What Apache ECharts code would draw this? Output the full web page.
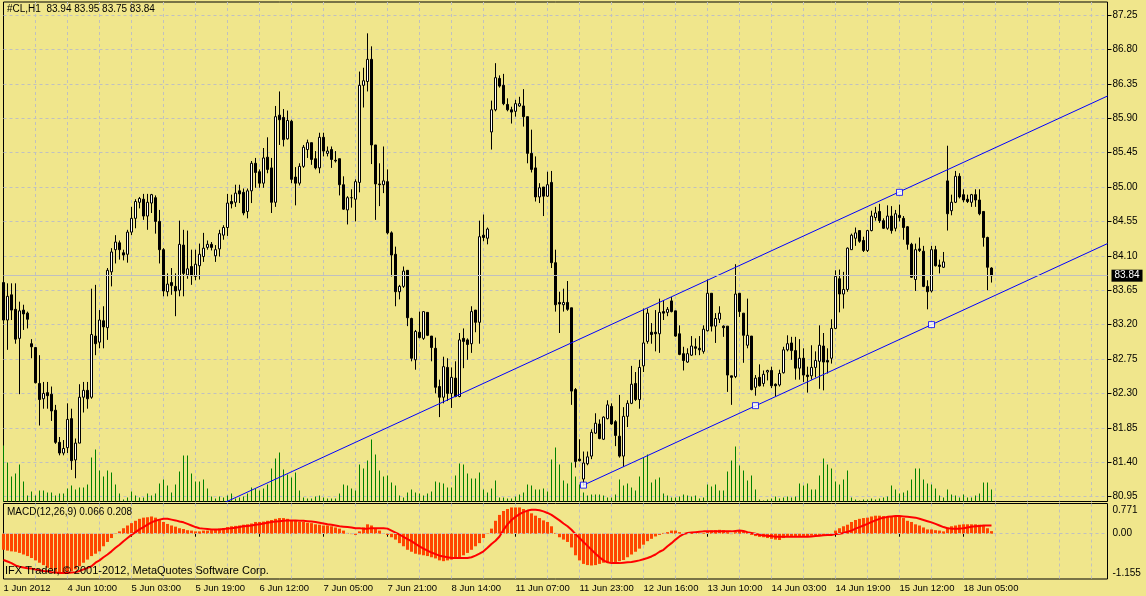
<!DOCTYPE html>
<html><head><meta charset="utf-8">
<script src="https://cdn.jsdelivr.net/npm/echarts@6/dist/echarts.min.js"></script>
<style>html,body{margin:0;padding:0;background:#F0E68C;overflow:hidden}#c{width:1146px;height:596px}</style>
</head><body><div id="c"></div><script>
// [open, close, low, high]
const candles = [
[83.75,83.26,83.24,84.16],[83.26,83.57,82.87,83.74],[83.59,83.39,83.26,83.74],[83.40,83.01,82.95,83.74],[83.02,83.38,82.29,83.50],
[83.39,83.34,83.13,83.46],[83.35,83.27,83.15,83.37],[82.95,82.91,82.76,83.01],[82.90,82.44,82.43,82.90],[82.43,82.22,81.88,82.80],
[82.23,82.30,82.10,82.45],[82.31,82.27,82.10,82.45],[82.29,82.07,81.94,82.39],[82.08,81.66,81.64,82.15],[81.66,81.52,81.49,81.73],
[81.52,81.58,81.49,81.69],[81.59,81.96,81.52,82.17],[81.97,81.42,81.30,82.10],[81.43,81.65,81.19,81.71],[81.65,82.25,81.65,82.42],
[82.25,82.34,82.05,82.45],[82.34,82.23,82.10,82.45],[82.25,83.07,82.23,83.67],[83.05,82.95,82.80,83.72],[82.97,83.26,82.89,83.39],
[83.25,83.17,82.89,83.44],[83.16,83.91,83.00,83.94],[83.89,84.15,83.70,84.20],[84.18,84.28,84.00,84.37],[84.27,84.18,84.05,84.30],
[84.14,84.11,84.04,84.18],[84.12,84.41,84.01,84.44],[84.41,84.59,84.37,84.74],[84.59,84.81,84.46,84.84],[84.80,84.85,84.72,84.87],
[84.84,84.62,84.57,84.91],[84.62,84.80,84.44,84.91],[84.79,84.90,84.66,84.91],[84.86,84.55,84.39,84.89],[84.55,84.18,84.00,84.70],
[84.18,83.64,83.57,84.20],[83.63,83.73,83.57,83.87],[83.75,83.71,83.59,83.94],[83.70,83.64,83.31,83.87],[83.65,84.25,83.57,84.56],
[84.24,83.87,83.57,84.44],[83.85,83.93,83.80,84.43],[83.96,83.84,83.72,84.18],[83.83,83.99,83.78,84.18],[83.97,84.12,83.79,84.26],
[84.09,84.20,84.02,84.40],[84.21,84.25,84.18,84.30],[84.25,84.21,84.17,84.28],[84.10,84.18,84.02,84.24],[84.19,84.39,84.09,84.44],
[84.37,84.47,84.31,84.50],[84.47,84.79,84.36,84.91],[84.81,84.78,84.72,84.90],[84.80,84.92,84.74,85.03],[84.95,84.91,84.79,85.03],
[84.93,84.66,84.63,84.98],[84.68,84.95,84.59,84.98],[84.95,85.31,84.79,85.34],[85.31,85.19,84.99,85.38],[85.20,85.05,84.99,85.23],
[85.05,85.38,84.99,85.51],[85.39,85.23,85.18,85.65],[85.25,84.80,84.66,85.38],[84.80,85.92,84.74,86.06],[85.94,85.88,85.55,86.25],
[85.91,85.62,85.53,86.02],[85.63,85.87,85.62,86.00],[85.86,85.10,85.05,85.88],[85.13,85.05,84.76,85.26],[85.05,85.27,85.02,85.31],
[85.27,85.52,85.25,85.55],[85.49,85.58,85.38,85.62],[85.58,85.36,85.29,85.58],[85.37,85.25,85.23,85.47],[85.25,85.65,85.18,85.71],
[85.65,85.47,85.40,85.71],[85.44,85.47,85.40,85.53],[85.49,85.36,85.25,85.53],[85.35,85.34,85.32,85.47],[85.37,85.03,84.89,85.37],
[85.03,84.71,84.70,85.14],[84.70,84.86,84.51,84.88],[84.86,84.86,84.73,84.97],[84.84,85.07,84.55,85.10],[85.06,86.33,84.93,86.51],
[86.33,86.39,86.04,86.56],[86.38,86.67,86.25,87.01],[86.67,85.55,85.30,86.84],[85.55,85.04,84.57,85.55],[85.04,85.03,84.75,85.31],
[85.03,85.08,84.92,85.53],[85.07,84.40,84.38,85.23],[84.40,84.11,83.83,84.42],[84.12,83.63,83.44,84.22],[83.63,83.70,83.53,83.72],
[83.70,83.90,83.68,83.96],[83.91,83.29,83.18,83.91],[83.28,82.76,82.72,83.29],[82.74,83.11,82.61,83.13],[83.10,83.03,83.02,83.37],
[83.02,83.37,83.00,83.37],[83.36,83.06,83.05,83.36],[83.05,82.90,82.72,83.05],[82.89,82.38,82.30,83.03],[82.39,82.25,81.99,82.48],
[82.25,82.65,82.17,82.78],[82.64,82.30,82.20,82.76],[82.30,82.51,82.11,82.64],[82.50,82.26,82.25,82.72],[82.26,83.00,82.25,83.09],
[83.02,82.98,82.63,83.15],[83.00,82.94,82.74,83.02],[82.95,83.37,82.83,83.44],[83.39,83.23,83.10,83.39],[83.23,84.35,82.95,84.56],
[84.37,84.34,84.29,84.64],[84.33,84.45,84.25,84.47],[85.72,86.01,85.49,86.13],[86.01,86.43,85.99,86.62],[86.42,86.32,86.30,86.46],
[86.33,86.09,86.07,86.48],[86.08,86.01,85.99,86.16],[86.01,85.98,85.83,86.05],[85.99,86.09,85.92,86.14],[86.06,86.09,86.05,86.18],
[86.06,85.92,85.79,86.28],[85.92,85.44,85.31,85.92],[85.44,85.23,85.19,85.75],[85.25,84.87,84.81,85.40],[84.87,84.99,84.79,85.05],
[85.00,84.88,84.62,85.00],[84.88,85.03,84.87,85.20],[85.06,84.01,83.94,85.21],[84.01,83.46,83.37,84.18],[83.49,83.47,83.09,83.63],
[83.46,83.49,83.37,83.67],[83.49,83.40,83.38,83.77],[83.42,82.33,82.15,83.42],[82.35,81.41,81.33,82.37],[81.44,81.42,81.41,81.70],
[81.18,81.39,81.09,81.54],[81.38,81.47,81.36,81.54],[81.48,81.79,81.44,81.83],[81.78,81.91,81.77,82.04],[81.90,81.71,81.70,81.96],
[81.70,81.99,81.69,82.00],[81.97,82.15,81.96,82.21],[82.13,81.90,81.89,82.17],[81.93,81.75,81.61,81.95],[81.74,81.48,81.46,82.28],
[81.48,82.00,81.34,82.12],[82.00,82.17,81.86,82.21],[82.17,82.42,82.16,82.66],[82.43,82.22,82.20,82.58],[82.22,82.64,82.10,82.74],
[82.66,82.96,82.58,83.41],[82.98,83.35,82.95,83.41],[83.10,83.07,82.95,83.22],[83.10,83.08,82.85,83.39],[83.08,83.36,82.83,83.54],
[83.37,83.35,83.26,83.52],[83.36,83.40,83.31,83.43],[83.51,83.37,83.36,83.56],[83.38,83.05,83.04,83.38],[83.08,82.81,82.80,83.19],
[82.82,82.73,82.60,82.91],[82.71,82.82,82.70,82.89],[82.80,82.92,82.79,83.05],[82.91,82.89,82.80,83.02],[82.89,82.87,82.80,83.05],
[82.85,83.14,82.82,83.19],[83.12,83.61,83.11,83.79],[83.61,83.18,83.11,83.61],[83.18,83.28,82.96,83.35],[83.27,83.35,83.22,83.44],
[83.18,83.16,83.04,83.19],[83.18,82.54,82.32,83.18],[82.53,82.51,82.15,82.53],[82.52,83.60,82.50,83.99],[83.61,83.37,83.30,83.61],
[83.35,83.06,82.70,83.35],[82.93,83.06,82.89,83.54],[83.05,82.35,82.34,83.05],[82.38,82.50,82.27,82.54],[82.51,82.40,82.39,82.68],
[82.43,82.55,82.39,82.60],[82.58,82.60,82.47,82.61],[82.60,82.40,82.37,82.65],[82.42,82.40,82.26,82.43],[82.41,82.56,82.39,82.61],
[82.57,82.87,82.56,82.91],[82.87,82.95,82.85,83.06],[82.96,82.86,82.74,83.04],[82.86,82.63,82.48,83.04],[82.63,82.76,82.48,83.01],
[82.76,82.54,82.45,82.89],[82.54,82.52,82.31,82.65],[82.53,82.64,82.48,82.93],[82.64,82.73,82.51,82.85],[82.72,82.93,82.36,83.19],
[82.92,82.71,82.34,83.09],[82.73,82.71,82.56,82.89],[82.76,83.15,82.69,83.27],[83.15,83.83,83.14,83.91],[83.80,83.60,83.36,83.92],
[83.60,83.66,83.41,83.89],[83.66,84.20,83.63,84.21],[84.18,84.37,84.18,84.39],[84.33,84.40,84.23,84.47],[84.43,84.29,84.27,84.43],
[84.30,84.17,84.15,84.35],[84.17,84.43,84.15,84.44],[84.43,84.62,84.42,84.69],[84.60,84.66,84.56,84.74],[84.68,84.56,84.53,84.78],
[84.56,84.46,84.45,84.59],[84.46,84.62,84.44,84.76],[84.62,84.43,84.39,84.75],[84.46,84.65,84.42,84.70],[84.63,84.60,84.55,84.77],
[84.59,84.47,84.31,84.62],[84.48,84.25,84.18,84.49],[84.25,83.82,83.81,84.27],[83.79,84.18,83.64,84.26],[84.19,84.17,84.15,84.34],
[84.16,83.70,83.69,84.23],[83.70,83.63,83.40,83.78],[83.64,84.18,83.62,84.23],[84.18,83.97,83.96,84.23],[83.98,83.96,83.87,84.05],
[83.95,84.02,83.94,84.15],[85.08,84.65,84.43,85.54],[84.69,84.80,84.63,84.90],[84.80,85.14,84.79,85.21],[85.14,84.87,84.85,85.18],
[84.90,84.83,84.80,84.97],[84.84,84.81,84.79,84.90],[84.80,84.90,84.74,84.91],[84.90,84.83,84.74,84.97],[84.83,84.65,84.63,84.97],
[84.68,84.34,84.22,84.68],[84.34,83.95,83.65,84.35],[83.94,83.84,83.75,83.95]
];
const volumes = [
56,39,25,28,37,20,6,10,6,11,11,9,9,6,8,8,13,16,12,14,14,17,44,52,31,25,31,29,17,8,
2,4,10,6,4,4,8,6,8,18,22,16,9,17,30,46,46,28,20,20,22,13,5,3,5,4,6,8,3,4,
5,8,14,13,11,13,17,33,43,49,32,27,24,29,11,4,3,3,5,6,4,3,3,3,8,17,16,13,11,37,
33,41,62,47,31,25,26,19,16,6,4,9,12,9,8,6,8,10,20,19,18,14,14,26,38,37,28,23,23,29,
12,9,13,21,4,4,3,3,5,7,9,17,16,12,12,13,10,42,54,37,21,18,39,25,17,9,6,7,7,7,
6,4,4,7,22,16,18,14,11,25,44,47,19,22,24,8,6,4,4,5,7,6,5,6,3,4,17,15,17,11,
11,30,41,55,36,31,21,26,12,2,1,2,3,5,3,4,5,4,5,18,16,18,12,12,26,43,37,33,20,17,
22,31,4,2,1,2,2,3,2,3,4,5,16,12,8,9,11,22,33,33,22,18,17,13,6,4,12,7,6,4,
7,4,4,6,8,19,19,12
];
const macdMain = [
-0.41,-0.43,-0.45,-0.46,-0.49,-0.53,-0.57,-0.62,-0.68,-0.74,-0.80,-0.87,-0.91,-0.97,-1.00,-1.00,-0.97,-0.95,-0.91,-0.83,
-0.74,-0.66,-0.57,-0.51,-0.45,-0.32,-0.21,-0.11,0.01,0.06,0.14,0.21,0.27,0.33,0.38,0.41,0.42,0.44,0.41,0.35,
0.30,0.25,0.21,0.18,0.14,0.12,0.09,0.08,0.06,0.06,0.08,0.08,0.09,0.11,0.13,0.14,0.17,0.19,0.20,0.21,
0.23,0.24,0.26,0.30,0.30,0.31,0.33,0.35,0.38,0.40,0.40,0.38,0.35,0.33,0.30,0.30,0.28,0.27,0.24,0.23,
0.21,0.21,0.19,0.16,0.13,0.08,0.02,-0.01,-0.03,0.06,0.16,0.24,0.21,0.14,0.08,0.01,-0.03,-0.09,-0.15,-0.24,
-0.32,-0.41,-0.46,-0.51,-0.53,-0.55,-0.57,-0.60,-0.63,-0.68,-0.70,-0.68,-0.66,-0.63,-0.60,-0.55,-0.49,-0.41,-0.32,-0.24,
-0.11,0.01,0.13,0.33,0.48,0.58,0.63,0.67,0.67,0.67,0.63,0.58,0.52,0.46,0.40,0.34,0.30,0.19,0.02,-0.09,
-0.15,-0.21,-0.35,-0.55,-0.68,-0.77,-0.80,-0.81,-0.80,-0.77,-0.74,-0.73,-0.72,-0.72,-0.70,-0.67,-0.60,-0.53,-0.46,-0.38,
-0.28,-0.19,-0.13,-0.07,-0.03,0.02,0.04,0.08,0.08,0.04,0.02,0.01,0.02,0.04,0.01,0.02,0.06,0.08,0.09,0.10,
0.09,0.04,-0.01,0.04,0.08,0.06,0.04,-0.03,-0.06,-0.08,-0.09,-0.11,-0.13,-0.15,-0.16,-0.11,-0.08,-0.06,-0.06,-0.06,
-0.06,-0.06,-0.05,-0.04,-0.03,-0.03,-0.03,-0.01,0.08,0.14,0.19,0.23,0.30,0.35,0.38,0.40,0.41,0.44,0.46,0.46,
0.45,0.44,0.45,0.45,0.44,0.40,0.33,0.30,0.24,0.21,0.16,0.11,0.11,0.09,0.08,0.06,0.16,0.19,0.21,0.23,
0.24,0.24,0.24,0.24,0.23,0.21,0.14,0.066
];
const macdSignal = [
-0.67,-0.71,-0.75,-0.81,-0.84,-0.86,-0.88,-0.89,-0.91,-0.93,-0.95,-0.96,-0.98,-0.99,-1.00,-1.00,-1.00,-0.99,-0.98,-0.95,
-0.91,-0.87,-0.83,-0.74,-0.68,-0.60,-0.53,-0.45,-0.36,-0.28,-0.19,-0.11,-0.03,0.04,0.11,0.17,0.23,0.29,0.33,0.36,
0.38,0.38,0.36,0.34,0.31,0.29,0.25,0.21,0.17,0.14,0.13,0.12,0.11,0.11,0.11,0.12,0.13,0.14,0.15,0.17,
0.19,0.20,0.21,0.23,0.24,0.26,0.28,0.30,0.31,0.32,0.33,0.34,0.34,0.34,0.33,0.33,0.32,0.31,0.30,0.28,
0.26,0.24,0.23,0.21,0.19,0.18,0.17,0.16,0.14,0.14,0.13,0.13,0.14,0.14,0.14,0.14,0.13,0.08,0.03,-0.02,
-0.08,-0.14,-0.19,-0.26,-0.32,-0.38,-0.43,-0.48,-0.52,-0.56,-0.58,-0.60,-0.62,-0.62,-0.62,-0.62,-0.62,-0.60,-0.56,-0.51,
-0.45,-0.36,-0.26,-0.18,-0.07,0.10,0.24,0.35,0.43,0.50,0.55,0.59,0.61,0.61,0.60,0.57,0.53,0.48,0.41,0.34,
0.26,0.19,0.10,-0.01,-0.11,-0.21,-0.31,-0.41,-0.51,-0.60,-0.68,-0.73,-0.75,-0.75,-0.75,-0.74,-0.73,-0.72,-0.70,-0.68,
-0.65,-0.62,-0.58,-0.53,-0.46,-0.41,-0.32,-0.24,-0.15,-0.07,-0.01,0.02,0.03,0.04,0.05,0.06,0.06,0.06,0.06,0.06,
0.06,0.06,0.06,0.07,0.08,0.07,0.04,0.02,0.00,-0.03,-0.04,-0.06,-0.06,-0.08,-0.08,-0.08,-0.08,-0.08,-0.08,-0.08,
-0.08,-0.08,-0.07,-0.06,-0.05,-0.04,-0.03,-0.03,-0.01,0.00,0.02,0.05,0.08,0.13,0.17,0.21,0.25,0.30,0.34,0.38,
0.41,0.43,0.44,0.45,0.45,0.44,0.43,0.42,0.41,0.38,0.35,0.32,0.29,0.25,0.21,0.17,0.14,0.13,0.13,0.13,
0.14,0.16,0.18,0.19,0.20,0.21,0.21,0.208
];
const priceTicks = [80.95,81.40,81.85,82.30,82.75,83.20,83.65,84.10,84.55,85.00,85.45,85.90,86.35,86.80,87.25];
const macdTicks = [-1.155, 0, 0.771];
const channelUpper = [[0, 79.54], [276, 86.19]];
const channelLower = [[145, 81.10], [276, 84.26]];
const channelAnchors = [[145, 81.10], [188, 82.14], [232, 83.20], [224, 84.93]];
const missingBars = ['2012-5-13-1'];
const monthNames = ['Jan','Feb','Mar','Apr','May','Jun','Jul','Aug','Sep','Oct','Nov','Dec'];
const slotCount = 277;

// hourly bar times (CL session: no 00:00 bar, no weekends)
const categories = [];
for (let t = Date.UTC(2012, 5, 1, 17); categories.length < slotCount; t += 3600000) {
  const d = new Date(t), h = d.getUTCHours(), wd = d.getUTCDay();
  const key = d.getUTCFullYear() + '-' + d.getUTCMonth() + '-' + d.getUTCDate() + '-' + h;
  if (h === 0 || wd === 0 || wd === 6 || missingBars.indexOf(key) >= 0) continue;
  categories.push(d.getUTCDate() + ' ' + monthNames[d.getUTCMonth()] + ' ' + String(h).padStart(2, '0') + ':00');
}
const nBars = candles.length;
const lastClose = candles[nBars - 1][1];

const FONT = 'Liberation Sans';
const BG = '#F0E68C';
const dashStyle = { color: '#c0c0c0', type: [3, 3], width: 1 };
const vSplit = { show: true, interval: (i) => i > 0 && i % 8 === 0, lineStyle: dashStyle };

const chart = echarts.init(document.getElementById('c'), null, { renderer: 'canvas' });
chart.setOption({
  animation: false,
  backgroundColor: BG,
  textStyle: { fontFamily: FONT },
  grid: [
    { left: 3.5, right: 38.5, top: 2, height: 499.5, show: true, borderColor: '#000', borderWidth: 1, backgroundColor: 'transparent' },
    { left: 3.5, right: 38.5, top: 503.5, height: 75.5, show: true, borderColor: '#000', borderWidth: 1, backgroundColor: 'transparent' }
  ],
  xAxis: [
    { type: 'category', gridIndex: 0, data: categories, boundaryGap: false,
      axisLine: { show: false }, axisTick: { show: false }, axisLabel: { show: false },
      splitLine: vSplit },
    { type: 'category', gridIndex: 1, data: categories, boundaryGap: false,
      axisLine: { show: false },
      axisTick: { show: true, length: 3, interval: (i) => i % 16 === 0 && i < nBars, lineStyle: { color: '#000' } },
      axisLabel: { show: true, interval: (i) => i % 16 === 0 && i < nBars, align: 'left', margin: 4,
        color: '#000', fontSize: 9.5, fontFamily: FONT,
        formatter: (v, i) => i === 0 ? '1 Jun 2012' : v },
      splitLine: vSplit }
  ],
  yAxis: [
    { type: 'value', gridIndex: 0, position: 'right', min: 80.886, max: 87.42, scale: true,
      axisLine: { show: false },
      axisTick: { show: true, length: 4, customValues: priceTicks, lineStyle: { color: '#000' } },
      axisLabel: { show: true, customValues: priceTicks, margin: 5, color: '#000', fontSize: 10, fontFamily: FONT,
        formatter: (v) => v.toFixed(2) },
      splitLine: { show: true, lineStyle: dashStyle } },
    { type: 'value', gridIndex: 0, min: 0, max: 499.5, show: false, splitLine: { show: false } },
    { type: 'value', gridIndex: 1, position: 'right', min: -1.155, max: 0.771,
      axisLine: { show: false }, axisTick: { show: false, customValues: macdTicks },
      axisLabel: { show: true, customValues: macdTicks, margin: 5, color: '#000', fontSize: 10, fontFamily: FONT,
        formatter: (v) => v === 0 ? '{m|0.00}' : (v > 0 ? '{t|' + v.toFixed(3) + '}' : '{b|' + v.toFixed(3) + '}'),
        rich: { t: { padding: [13, 0, 0, 0], fontSize: 10, fontFamily: FONT, color: '#000' },
                b: { padding: [0, 0, 12, 0], fontSize: 10, fontFamily: FONT, color: '#000' },
                m: { fontSize: 10, fontFamily: FONT, color: '#000' } } },
      splitLine: { show: false } }
  ],
  series: [
    { name: 'Volume', type: 'bar', xAxisIndex: 0, yAxisIndex: 1, data: volumes, barWidth: 1,
      itemStyle: { color: '#008000' }, silent: true, z: 1 },
    { name: '#CL,H1', type: 'candlestick', xAxisIndex: 0, yAxisIndex: 0, data: candles, barWidth: 3, z: 3,
      itemStyle: { color: '#ffffff', color0: '#000000', borderColor: '#000000', borderColor0: '#000000', borderWidth: 1 },
      markLine: { silent: true, symbol: 'none', animation: false,
        data: [{ yAxis: lastClose }],
        lineStyle: { color: '#c0c0c0', type: 'solid', width: 1 },
        label: { show: true, position: 'end', distance: 4, formatter: lastClose.toFixed(2),
          backgroundColor: '#000', color: '#fff', fontSize: 10, fontFamily: FONT, padding: [1, 3, 1, 3] } } },
    { name: 'ChannelUpper', type: 'line', xAxisIndex: 0, yAxisIndex: 0, data: channelUpper, symbol: 'none',
      lineStyle: { color: '#0000ff', width: 1 }, clip: true, z: 4, silent: true },
    { name: 'ChannelLower', type: 'line', xAxisIndex: 0, yAxisIndex: 0, data: channelLower, symbol: 'none',
      lineStyle: { color: '#0000ff', width: 1 }, clip: true, z: 4, silent: true },
    { name: 'Anchors', type: 'scatter', xAxisIndex: 0, yAxisIndex: 0, data: channelAnchors, symbol: 'rect', symbolSize: 6,
      itemStyle: { color: '#ffffff', borderColor: '#0000ff', borderWidth: 1 }, z: 5, silent: true },
    { name: 'MACD', type: 'bar', xAxisIndex: 1, yAxisIndex: 2, data: macdMain, barWidth: 3,
      itemStyle: { color: '#ff4500' }, silent: true, z: 2,
      markLine: { silent: true, symbol: 'none', animation: false, data: [{ yAxis: 0 }],
        lineStyle: dashStyle, label: { show: false } } },
    { name: 'Signal', type: 'line', xAxisIndex: 1, yAxisIndex: 2, data: macdSignal, symbol: 'none',
      lineStyle: { color: '#ff0000', width: 2 }, silent: true, z: 3 }
  ],
  graphic: [
    { type: 'text', left: 7, top: 4, z: 10, style: { text: '#CL,H1  83.94 83.95 83.75 83.84', fill: '#000', font: '10px "Liberation Sans"' } },
    { type: 'text', left: 7, top: 507, z: 10, style: { text: 'MACD(12,26,9) 0.066 0.208', fill: '#000', font: '10px "Liberation Sans"' } },
    { type: 'text', left: 5, top: 565, z: 10, style: { text: 'IFX Trader, \u00a9 2001-2012, MetaQuotes Software Corp.', fill: '#000', font: '11px "Liberation Sans"' } }
  ]
});
</script></body></html>
